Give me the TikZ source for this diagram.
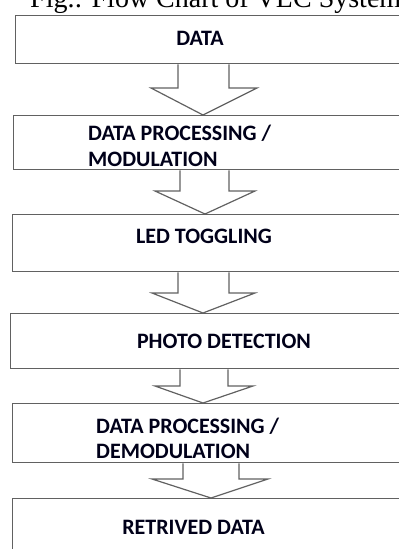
\documentclass[tikz,border=0pt]{standalone}
\usepackage{fontspec}
\setmainfont{Liberation Serif}
\newfontfamily\boxfont{Carlito}
\begin{document}
\begin{tikzpicture}[x=1pt,y=1pt,
  box/.style={draw=black!62, line width=1.4pt, rectangle, anchor=north west, minimum width=420pt, inner sep=0pt},
  blk/.style={draw=black!62, line width=1.2pt, line join=miter},
  lbl/.style={font=\boxfont\bfseries\fontsize{22}{26}\selectfont, text=black!90!blue, inner sep=0pt},
  ttl/.style={font=\fontsize{28}{30}\selectfont, inner sep=0pt, anchor=base west}]
\useasboundingbox (0,0) rectangle (399,-549);
\clip (0,0) rectangle (399,-549);
% title (cut off at the top)
\node[ttl] (title) at (30,-7) {Fig.: Flow Chart of VLC System};
% boxes
\node[box, minimum height=48pt] (b1) at (15,-15) {};
\node[box, minimum height=54pt] (b2) at (13,-115) {};
\node[box, minimum height=57pt] (b3) at (12,-214) {};
\node[box, minimum height=55pt] (b4) at (10,-313) {};
\node[box, minimum height=59pt] (b5) at (12,-403) {};
\node[box, minimum height=80pt] (b6) at (12,-498) {};
% block arrows
\draw[blk] (178,0 |- b1.south) -- (178,-88) -- (151,-88) -- (203,0 |- b2.north) -- (257,-88) -- (229,-88) -- (229,0 |- b1.south);
\draw[blk] (180,0 |- b2.south) -- (180,-191) -- (155,-191) -- (205,0 |- b3.north) -- (255,-191) -- (229,-191) -- (229,0 |- b2.south);
\draw[blk] (178,0 |- b3.south) -- (178,-293) -- (152,-293) -- (203,0 |- b4.north) -- (255,-293) -- (229,-293) -- (229,0 |- b3.south);
\draw[blk] (180,0 |- b4.south) -- (180,-386) -- (155,-386) -- (203,0 |- b5.north) -- (253,-386) -- (228,-386) -- (228,0 |- b4.south);
\draw[blk] (183,0 |- b5.south) -- (183,-479) -- (152,-479) -- (211,0 |- b6.north) -- (268,-479) -- (239,-479) -- (239,0 |- b5.south);
% labels
\node[lbl] (t1) at (200,-38) {DATA};
\node[lbl, anchor=west] (t2a) at (88,-133) {DATA PROCESSING /};
\node[lbl, anchor=west] (t2b) at (88,-159) {MODULATION};
\node[lbl] (t3) at (204,-236) {LED TOGGLING};
\node[lbl] (t4) at (224,-341) {PHOTO DETECTION};
\node[lbl, anchor=west] (t5a) at (96,-426) {DATA PROCESSING /};
\node[lbl, anchor=west] (t5b) at (96,-451) {DEMODULATION};
\node[lbl] (t6) at (193.5,-527) {RETRIVED DATA};
\end{tikzpicture}
\end{document}
